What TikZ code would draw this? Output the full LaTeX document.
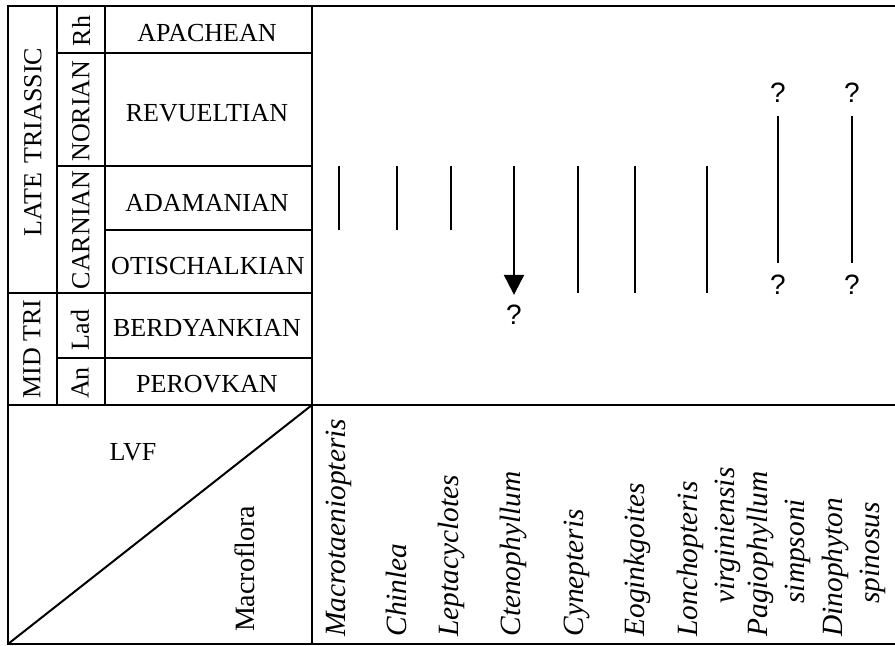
\documentclass[tikz,border=0pt]{standalone}
\usepackage{fontspec}
\setmainfont{Liberation Serif}
\newfontfamily\qfont{Liberation Sans}
\usetikzlibrary{arrows.meta}
\tikzset{lbl/.style={font=\fontsize{13}{15}\selectfont, inner sep=0pt},
         vlbl/.style={lbl, rotate=90},
         taxon/.style={font=\fontsize{14.7}{17}\selectfont\itshape, rotate=90, anchor=west, inner sep=0pt},
         qmark/.style={font=\qfont\fontsize{14}{16}\selectfont, inner sep=0pt},
         outer/.style={line width=1.3pt},
         rowline/.style={line width=1pt},
         rng/.style={line width=1.1pt}}

\begin{document}
\begin{tikzpicture}[x=0.5pt,y=-0.5pt,>={Triangle[width=10pt,length=10pt]}]
\useasboundingbox (0,0) rectangle (895,646);

%outer lines
\draw [outer] (895,6)--(8,6)--(8,644)--(895,644);
\draw [outer] (312,6)--(312,644);
\draw [outer] (8,405)--(895,405);
\draw [rowline] (8,644)--(312,405);                      %LVF--Macroflora

%stage grid
\draw [rowline] (57,6)--(57,405);
\draw [rowline] (105,6)--(105,405);
\draw [rowline] (57,53)--(312,53);                       %Rh
\draw [rowline] (57,166)--(312,166);                     %Norian
\draw [rowline] (105,230)--(312,230);                    %Adamanian
\draw [rowline] (8,293)--(312,293);                      %Carnian
\draw [rowline] (57,358)--(312,358);                     %Lad

%labels
\node [vlbl] (late) at (33,142)  {LATE\hspace{0.35em}TRIASSIC};
\node [vlbl] (mid)  at (32,349)  {MID TRI};
\node [vlbl] (rh)   at (81,31)   {Rh};
\node [vlbl] (nor)  at (81,111)  {NORIAN};
\node [vlbl] (car)  at (81,230)  {CARNIAN};
\node [vlbl] (lad)  at (80,330)  {Lad};
\node [vlbl] (an)   at (80,383)  {An};
%
\node [lbl] (apa) at (207,33)  {APACHEAN};
\node [lbl] (rev) at (207,113) {REVUELTIAN};
\node [lbl] (ada) at (207,203) {ADAMANIAN};
\node [lbl] (oti) at (208,266) {OTISCHALKIAN};
\node [lbl] (ber) at (207,328) {BERDYANKIAN};
\node [lbl] (per) at (207,384) {PEROVKAN};
%
\node [lbl] (lvf) at (133,452) {LVF};
\node [vlbl, font=\fontsize{14}{16}\selectfont] (mfl) at (245,569) {Macroflora};

%taxa
\node [taxon] (t1)  at (339,637) {Macrotaeniopteris};
\node [taxon] (t2)  at (396,637) {Chinlea};
\node [taxon] (t3)  at (451,637) {Leptacyclotes};
\node [taxon] (t4)  at (513,637) {Ctenophyllum};
\node [taxon] (t5)  at (577,637) {Cynepteris};
\node [taxon] (t6)  at (637,637) {Eoginkgoites};
\node [taxon] (t7)  at (690,637) {Lonchopteris};
\node [taxon] (t7b) at (728,604) {virginiensis};
\node [taxon] (t8)  at (760,637) {Pagiophyllum};
\node [taxon] (t8b) at (798,604) {simpsoni};
\node [taxon] (t9)  at (835,637) {Dinophyton};
\node [taxon] (t9b) at (873,604) {spinosus};

%ranges
\coordinate (r1a) at (339,166); \coordinate (r1b) at (339,230);
\coordinate (r2a) at (397,166); \coordinate (r2b) at (397,230);
\coordinate (r3a) at (451,166); \coordinate (r3b) at (451,230);
\coordinate (r4a) at (514,166);
\coordinate (r5a) at (578,166); \coordinate (r5b) at (578,293);
\coordinate (r6a) at (635,166); \coordinate (r6b) at (635,293);
\coordinate (r7a) at (707,166); \coordinate (r7b) at (707,293);
\node [qmark] (q4)  at (514,315) {?};
\node [qmark] (q8a) at (778,93)  {?};
\node [qmark] (q8b) at (778,285) {?};
\node [qmark] (q9a) at (852,93)  {?};
\node [qmark] (q9b) at (852,285) {?};
\draw [rng] (r1a)--(r1b);                                %Macrotaeniopteris
\draw [rng] (r2a)--(r2b);                                %Chinlea
\draw [rng] (r3a)--(r3b);                                %Leptacyclotes
\draw [rng, ->, shorten >=5pt] (r4a)--(q4);              %Ctenophyllum
\draw [rng] (r5a)--(r5b);                                %Cynepteris
\draw [rng] (r6a)--(r6b);                                %Eoginkgoites
\draw [rng] (r7a)--(r7b);                                %Lonchopteris
\draw [rng, shorten <=6.6pt, shorten >=6pt] (q8a)--(q8b); %Pagiophyllum
\draw [rng, shorten <=6.6pt, shorten >=6pt] (q9a)--(q9b); %Dinophyton
\end{tikzpicture}
\end{document}
